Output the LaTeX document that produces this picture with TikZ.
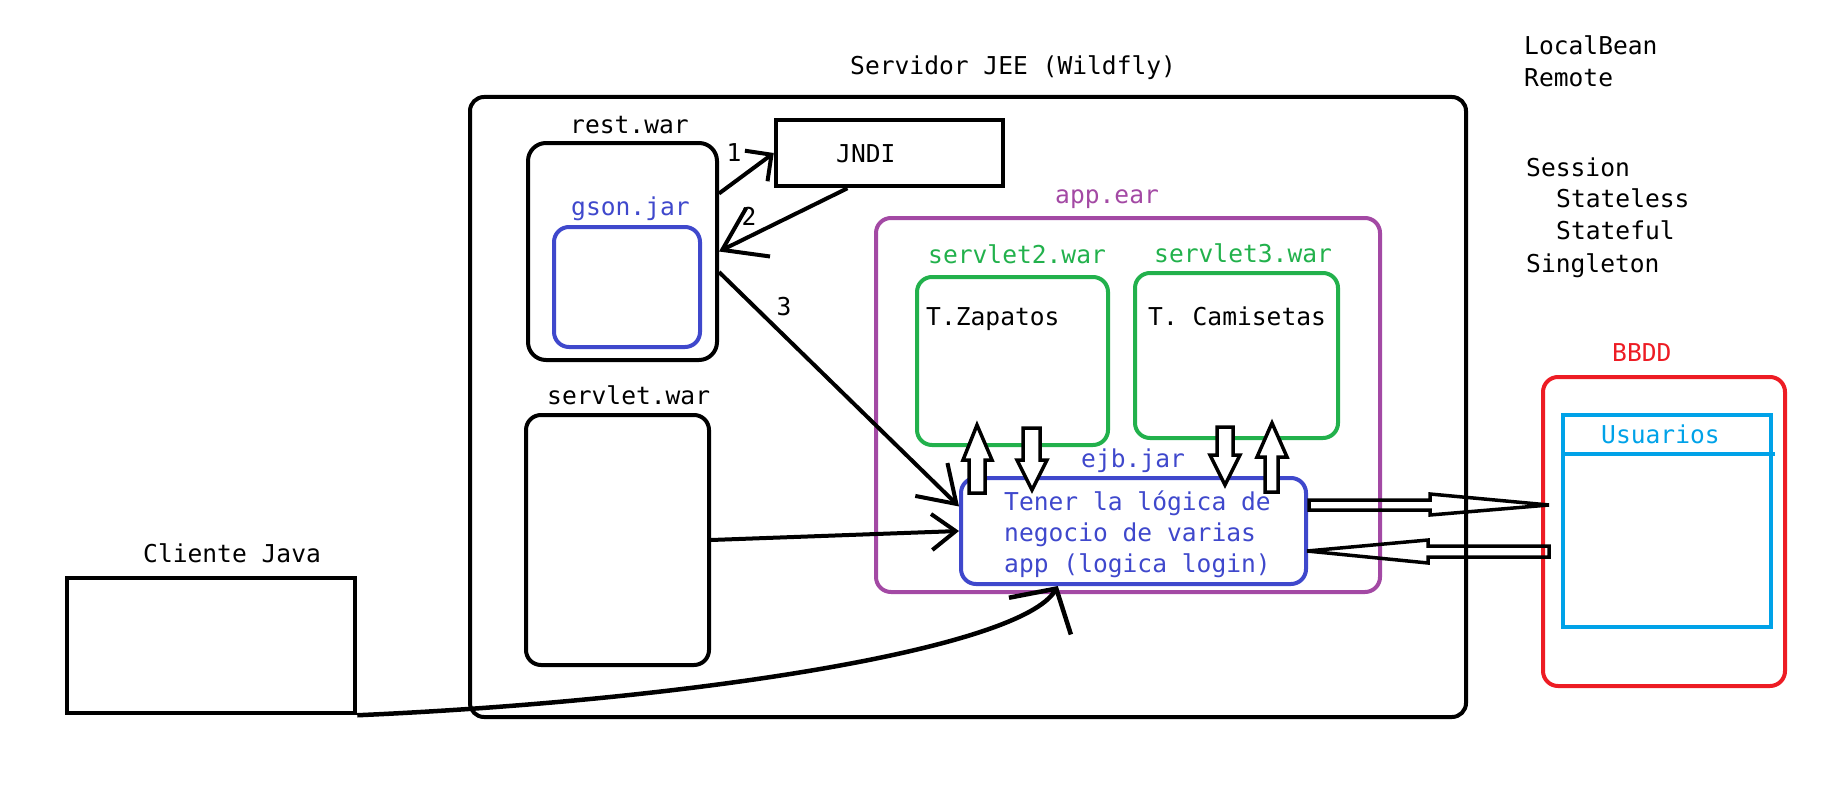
\documentclass[tikz,border=0pt]{standalone}
\usepackage{fontspec}
\setmainfont{DejaVu Sans Mono}
\usepackage{tikz}
\usetikzlibrary{arrows.meta}

\definecolor{paintblue}{HTML}{3F48CC}
\definecolor{paintgreen}{HTML}{22B14C}
\definecolor{paintpurple}{HTML}{A349A4}
\definecolor{paintred}{HTML}{ED1C24}
\definecolor{paintcyan}{HTML}{00A2E8}

\tikzset{
	box/.style={draw,line width=4pt,rounded corners=15pt,inner sep=0pt},
	sharpbox/.style={draw,line width=4.5pt,inner sep=0pt},
	txt/.style={anchor=base west,inner sep=0pt},
	hand/.style 2 args={line width=4pt,-{Straight Barb[length=#1pt,width=#2pt]}},
	block/.style={draw,line width=3.5pt,line join=miter,fill=white},
	blockh/.style={draw,line width=3.5pt,line join=miter}
}

\begin{document}
\begin{tikzpicture}[x=1pt,y=-1pt,font=\fontsize{24.6}{30}\selectfont]
			\useasboundingbox (0,0) rectangle (1843,797);
			% servidor y contenedores
			\node[box,rounded corners=14pt,minimum width=996pt,minimum height=620pt](jee) at (968,407) {};
			\node[txt](jeelbl) at (850,75) {Servidor JEE (Wildfly)};
			\node[box,rounded corners=18pt,minimum width=189pt,minimum height=217pt](rest) at (622.5,251.5) {};
			\node[txt](restlbl) at (570,134) {rest.war};
			\node[box,draw=paintblue,minimum width=146pt,minimum height=120pt](gson) at (627,287) {};
			\node[txt,text=paintblue](gsonlbl) at (571,215) {gson.jar};
			\node[sharpbox,minimum width=227pt,minimum height=66pt](jndi) at (889.5,153) {};
			\node[txt](jndilbl) at (836,162) {JNDI};
			\node[box,minimum width=183pt,minimum height=250pt](servlet) at (617.5,540) {};
			\node[txt](servletlbl) at (547,404) {servlet.war};
			% app.ear
			\node[box,draw=paintpurple,minimum width=504pt,minimum height=374pt](app) at (1128,405) {};
			\node[txt,text=paintpurple](applbl) at (1055,203) {app.ear};
			\node[box,draw=paintgreen,minimum width=191pt,minimum height=168pt](srv2) at (1012.5,361) {};
			\node[txt,text=paintgreen](srv2lbl) at (928,263) {servlet2.war};
			\node[txt](zapatos) at (926,325) {T.Zapatos};
			\node[box,draw=paintgreen,minimum width=203pt,minimum height=165pt](srv3) at (1236.5,355.5) {};
			\node[txt,text=paintgreen](srv3lbl) at (1154,262) {servlet3.war};
			\node[txt](camisetas) at (1148,325) {T. Camisetas};
			\node[box,draw=paintblue,minimum width=345pt,minimum height=106pt](ejb) at (1133.5,531) {};
			\node[txt,text=paintblue](ejblbl) at (1081,467) {ejb.jar};
			\node[txt,text=paintblue](tener1) at (1004,510) {Tener la lógica de};
			\node[txt,text=paintblue](tener2) at (1004,541) {negocio de varias};
			\node[txt,text=paintblue](tener3) at (1004,572) {app (logica login)};
			% cliente y base de datos
			\node[sharpbox,minimum width=288pt,minimum height=135pt](client) at (211,645.5) {};
			\node[txt](clientlbl) at (143,562) {Cliente Java};
			\node[box,draw=paintred,minimum width=242pt,minimum height=309pt](bbdd) at (1664,531.5) {};
			\node[txt,text=paintred](bbddlbl) at (1612,361) {BBDD};
			\node[sharpbox,draw=paintcyan,minimum width=208pt,minimum height=212pt](tabla) at (1667,521) {};
			\draw[line width=4.5pt,paintcyan] (1563,454) -- (1775,454);
			\node[txt,text=paintcyan](tablalbl) at (1601,443) {Usuarios};
			% notas
			\node[txt](localbean) at (1524,55) {LocalBean};
			\node[txt](remote) at (1524,87) {Remote};
			\node[txt](session) at (1526,176) {Session};
			\node[txt](stateless) at (1556,207) {Stateless};
			\node[txt](stateful) at (1556,239) {Stateful};
			\node[txt](singleton) at (1526,272) {Singleton};
			% flechas
			\draw[hand={19}{38}] (rest.31) -- (jndi.west);
			\node[anchor=base,inner sep=0pt](n1) at (734,161) {1};
			\draw[hand={40}{54}] (jndi.220) -- (rest.east);
			\node[anchor=base,inner sep=0pt](n2) at (749,225) {2};
			\draw[hand={35}{46}] (rest.-12) -- (ejb.172);
			\node[anchor=base,inner sep=0pt](n3) at (784,315) {3};
			\draw[hand={24}{36}] (servlet.east) -- (ejb.west);
			\draw[hand={32}{72},line width=4.5pt] (client.south east) .. controls (700,700) and (1021,648) .. (ejb.216);
			% flechas huecas
			\draw[block] (969,493) -- (969,460) -- (963,460) -- (977,425) -- (992,460) -- (985,460) -- (985,493) -- cycle;
			\draw[block] (1023,428) -- (1023,460) -- (1017,460) -- (1032,490) -- (1047,460) -- (1040,460) -- (1040,428) -- cycle;
			\draw[block] (1217,427) -- (1217,455) -- (1210,455) -- (1225,485) -- (1240,455) -- (1233,455) -- (1233,427) -- cycle;
			\draw[block] (1265,492) -- (1265,457) -- (1257,457) -- (1272,423) -- (1287,457) -- (1278,457) -- (1278,492) -- cycle;
			\draw[blockh] (1309,500) -- (1430,500) -- (1430,494) -- (1549,505) -- (1430,515) -- (1430,510) -- (1309,510) -- cycle;
			\draw[blockh] (1549,546) -- (1428,546) -- (1428,540) -- (1307,551) -- (1428,563) -- (1428,557) -- (1549,557) -- cycle;
		\end{tikzpicture}
\end{document}
